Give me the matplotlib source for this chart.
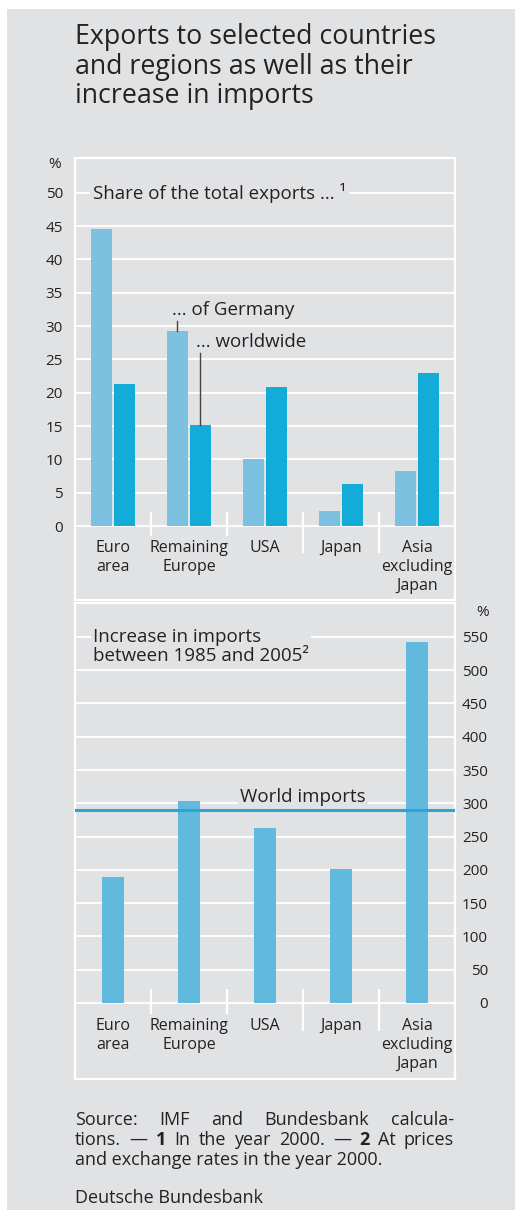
import matplotlib
matplotlib.use("Agg")
import matplotlib.pyplot as plt
from matplotlib.patches import Rectangle
import numpy as np

plt.rcParams['font.family'] = ['Open Sans', 'DejaVu Sans']

# data
categories = ["Euro\narea", "Remaining\nEurope", "USA", "Japan", "Asia\nexcluding\nJapan"]
share_germany = [44.5, 29.2, 10.1, 2.2, 8.3]
share_world = [21.3, 15.2, 20.8, 6.3, 23.0]
import_increase = [190, 303, 263, 201, 543]
world_imports = 290
top_ticks = list(range(0, 55, 5))
bottom_ticks = list(range(0, 600, 50))

title = "Exports to selected countries\nand regions as well as their\nincrease in imports"
foot1 = ["Source:", "IMF", "and", "Bundesbank", "calcula-"]
foot2 = ["tions.", "\u2014", "1", "In", "the", "year", "2000.", "\u2014", "2", "At", "prices"]
foot3 = "and exchange rates in the year 2000."
publisher = "Deutsche Bundesbank"

# colours
bg = '#e1e2e4'
c_ger = '#7dc1e1'
c_world = '#13acd9'
c_imp = '#62b9de'
c_line = '#2ea3d5'
txt = '#222222'

W, H = 515, 1210
fig = plt.figure(figsize=(W / 100, H / 100), dpi=100)
fig.patch.set_facecolor('white')
fig.patches.append(Rectangle((7 / W, 0), 1, 1 - 9 / H, transform=fig.transFigure,
                             facecolor=bg, edgecolor='none', zorder=-5))


def px_axes(l, t, r, b):
    return fig.add_axes([l / W, 1 - b / H, (r - l) / W, (b - t) / H])


def style(ax):
    ax.set_facecolor(bg)
    for s in ax.spines.values():
        s.set_color('white')
        s.set_linewidth(1.6)
    ax.yaxis.grid(True, color='white', lw=1.3)
    ax.set_axisbelow(True)
    ax.set_xticks([])
    ax.set_xlim(-0.5, 4.5)


x = np.arange(len(categories))

# top chart: share of total exports
ax1 = px_axes(75, 158, 455, 600)
style(ax1)
ax1.set_ylim(-11.1, 55.2)
ax1.set_yticks(top_ticks)
ax1.tick_params(axis='y', length=0, pad=8.6, labelsize=11, labelcolor=txt)
ax1.bar(x - 0.148, share_germany, 0.28, color=c_ger, zorder=3)
ax1.bar(x + 0.148, share_world, 0.28, color=c_world, zorder=3)
ax1.text(-0.263, 50, "Share of the total exports ... \u00b9", fontsize=13.5, color=txt,
         va='center', ha='left', zorder=4,
         bbox=dict(facecolor=bg, edgecolor='none', pad=2))
ax1.text(0.776, 32.4, "... of Germany", fontsize=13.5, color=txt, va='center', zorder=4)
ax1.text(1.09, 27.6, "... worldwide", fontsize=13.5, color=txt, va='center', zorder=4)
ax1.plot([0.842, 0.842], [29.2, 30.8], color='#444444', lw=1, zorder=4)
ax1.plot([1.145, 1.145], [15.2, 25.9], color='#444444', lw=1, zorder=4)
for i, c in enumerate(categories):
    ax1.text(i, -2.1, c, ha='center', va='top', fontsize=11.5, color=txt, linespacing=1.25)
ax1.vlines([0.5, 1.5], -1.5, 2.1, color='white', lw=1.6)
ax1.vlines([2.5, 3.5], -4.0, 2.1, color='white', lw=1.6)
fig.text(55 / W, 1 - 165 / H, "%", fontsize=11, color=txt, ha='center', va='center')

# bottom chart: increase in imports
ax2 = px_axes(75, 603, 455, 1079)
style(ax2)
ax2.set_ylim(-114.2, 601)
ax2.yaxis.tick_right()
ax2.set_yticks(bottom_ticks)
ax2.tick_params(axis='y', length=0, pad=23.8, labelsize=11, labelcolor=txt)
for lab in ax2.get_yticklabels():
    lab.set_horizontalalignment('right')
ax2.bar(x, import_increase, 0.28, color=c_imp, zorder=3)
ax2.axhline(world_imports, color=c_line, lw=2.2, zorder=4)
ax2.text(2.5, 309.5, "World imports", fontsize=13.5, color=txt, ha='center', va='center', zorder=4,
         bbox=dict(facecolor=bg, edgecolor='none', pad=1.5))
ax2.text(-0.263, 564, "Increase in imports\nbetween 1985 and 2005\u00b2", fontsize=13.5, color=txt,
         ha='left', va='top', linespacing=1.1, zorder=4,
         bbox=dict(facecolor=bg, edgecolor='none', pad=1.5))
for i, c in enumerate(categories):
    ax2.text(i, -22, c, ha='center', va='top', fontsize=11.5, color=txt, linespacing=1.25)
ax2.vlines([0.5, 1.5], -16.5, 21, color='white', lw=1.6)
ax2.vlines([2.5, 3.5], -42, 21, color='white', lw=1.6)
fig.text(483 / W, 1 - 612 / H, "%", fontsize=11, color=txt, ha='center', va='center')

# title
fig.text(75 / W, 1 - 23 / H, title, fontsize=19.3, color=txt, ha='left', va='top',
         linespacing=1.08)

# footnotes, first two lines justified
renderer = fig.canvas.get_renderer()


def justified(words, y, x0=75, x1=454, size=13):
    items = []
    for w in words:
        fw = 'bold' if w in ('1', '2') else 'normal'
        items.append(fig.text(0, 1 - y / H, w, fontsize=size, color=txt, fontweight=fw,
                              ha='left', va='baseline'))
    widths = [t.get_window_extent(renderer).width for t in items]
    gap = (x1 - x0 - sum(widths)) / (len(items) - 1)
    pos = x0
    for t, w in zip(items, widths):
        t.set_x(pos / W)
        pos += w + gap


justified(foot1, 1125)
justified(foot2, 1145)
fig.text(75 / W, 1 - 1165 / H, foot3, fontsize=13, color=txt, ha='left', va='baseline')
fig.text(75 / W, 1 - 1203 / H, publisher, fontsize=13, color=txt, ha='left', va='baseline')

fig.savefig('out.png', dpi=100, facecolor=fig.get_facecolor())
